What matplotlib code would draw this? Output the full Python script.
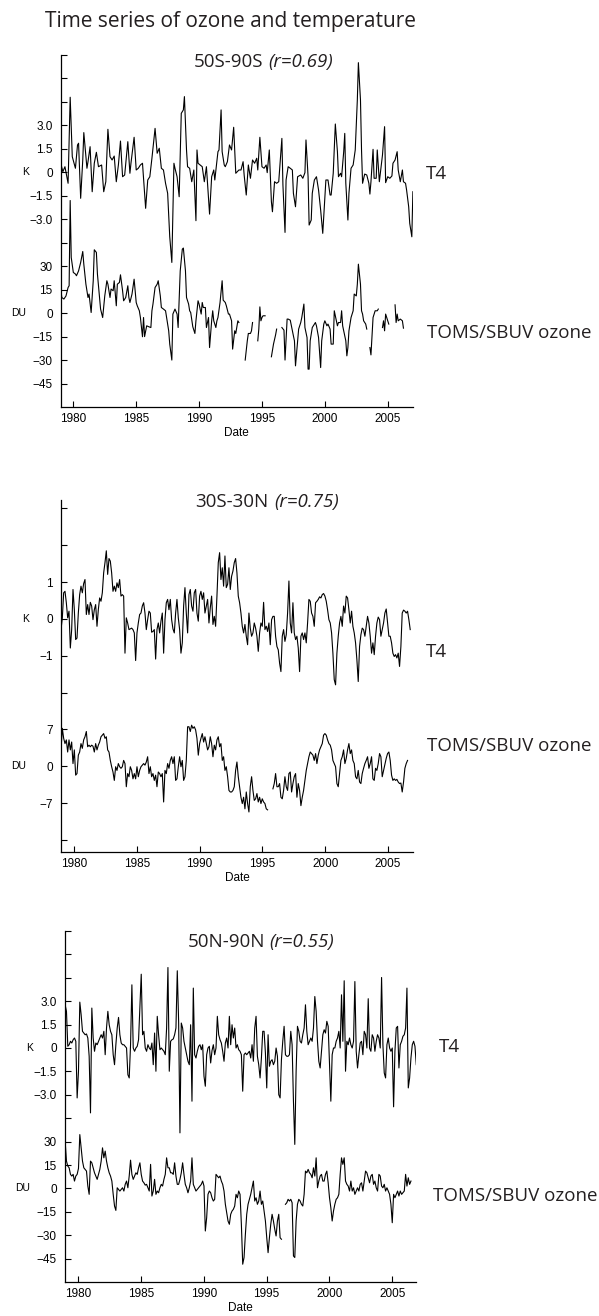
import numpy as np
import matplotlib
matplotlib.use("Agg")
import matplotlib.pyplot as plt

plt.rcParams['font.family'] = ['Liberation Sans', 'DejaVu Sans']
plt.rcParams['axes.unicode_minus'] = True
nan = np.nan

# ---------------- data ----------------
# Panel 1 (50S-90S): (month index since Jan 1979, value)
P1_T4 = [(0,0.58),(2,0.04),(4,0.36),(7,-0.70),(9,4.80),(11,1.00),(14,0.26),(16,1.75),(17,1.86),(19,-1.66),
 (21,0.79),(22,2.54),(25,0.26),(26,0.68),(28,1.64),(30,-1.24),(32,0.58),(34,1.28),(36,0.36),(39,0.47),
 (41,-1.24),(43,-0.60),(45,2.75),(47,1.00),(49,0.79),(51,1.04),(53,-0.60),(55,0.47),(57,2.00),(59,-0.28),
 (61,-0.17),(64,1.96),(66,-0.06),(67,0.58),(70,2.24),(72,0.15),(74,0.26),(76,0.47),(78,0.58),(81,-2.30),
 (83,-0.49),(85,-0.28),(87,0.90),(90,2.81),(92,1.22),(94,1.54),(96,0.26),(98,0.15),(100,-0.70),(102,-1.34),
 (104,-4.12),(106,-5.76),(108,0.58),(109,0.26),(111,-0.28),(113,-1.56),(115,3.77),(117,3.99),(118,4.84),(120,1.43),
 (121,0.36),(123,0.26),(125,-0.60),(127,0.15),(129,-3.09),(130,1.43),(131,0.58),(133,0.47),(135,0.36),(137,-0.60),
 (139,0.36),(142,-2.67),(144,-0.28),(146,0.15),(147,-0.49),(150,1.32),(151,1.43),(153,3.99),(154,1.32),(156,0.47),
 (157,0.36),(159,0.68),(161,1.75),(163,1.43),(165,2.88),(167,-0.06),(170,0.15),(172,0.15),(174,0.68),(175,-0.17),
 (177,-1.45),(179,0.47),(181,-0.38),(183,0.79),(185,0.58),(187,0.90),(188,0.15),(190,2.24),(192,0.36),(194,0.26),
 (196,0.47),(197,-0.02),(199,1.43),(201,-1.88),(202,-2.52),(204,-0.60),(206,-0.70),(208,-0.60),(211,2.17),(212,-0.81),
 (214,-3.84),(215,-0.49),(217,0.36),(219,0.26),(221,0.15),(222,-1.34),(224,-2.20),(226,-0.28),(229,-0.17),(231,-0.38),
 (233,-0.02),(234,2.07),(236,-0.28),(237,-3.37),(239,-3.05),(240,-1.34),(242,-0.49),(244,-0.28),(246,-1.13),(248,-2.41),
 (250,-3.90),(252,-1.56),(253,-0.49),(255,-0.49),(257,-1.45),(258,-1.45),(260,-0.06),(262,3.09),(264,1.32),(265,-0.28),
 (267,-0.06),(268,-0.28),(270,1.32),(271,2.49),(272,-0.70),(274,-3.05),(275,-1.34),(277,0.26),(279,0.47),(281,1.43),
 (283,4.63),(284,7.01),(286,4.63),(287,1.43),(288,-0.70),(290,-0.11),(292,-0.17),(294,-0.70),(295,-1.39),(296,-0.60),
 (298,1.47),(299,-0.38),(301,-0.38),(302,1.43),(304,-0.60),(306,0.58),(307,1.11),(309,2.92),(310,-0.66),(312,-0.28),
 (314,-0.38),(316,-0.23),(317,0.58),(319,0.79),(321,1.32),(322,0.15),(324,-0.60),(326,0.15),(327,-0.60),(329,-0.70),
 (330,-1.13),(332,-2.20),(333,-3.26),(335,-4.12),(336,-1.24)]

P1_OZ = [(0,15.6),(1,10),(3,9),(5,11),(7,16.4),(8,17.5),(9,72),(10,35.6),(12,26),(14,25),(15,23.9),(17,27),
 (19,32.4),(21,39.4),(22,31.3),(24,18.5),(26,10),(27,12.2),(29,0.4),(31,20.7),(32,40.5),(34,38.8),(35,25),(37,10),
 (38,2.6),(40,-2.8),(42,11),(44,20.7),(45,18.5),(47,10),(48,15.4),(50,14.3),(51,20.7),(53,4.7),(54,18.5),(56,19.6),
 (57,24.5),(59,14.3),(60,7.9),(62,10),(64,17.5),(65,10),(66,6.8),(68,12.2),(70,21.7),(72,6.8),(73,4.7),(75,1.5),
 (76,-2.8),(78,-15.1),(79,-2.8),(80,-15),(82,-8.1),(84,-8.7),(86,-9.2),(87,1.5),(88,5.8),(90,16.4),(92,18.5),(93,20.7),
 (95,11),(96,3.6),(98,2.6),(100,1.5),(101,-2.8),(103,-11.3),(104,-19.8),(106,-30),(107,-0.6),(109,2.6),(111,-0.6),
 (112,-9.2),(114,27),(116,40.9),(117,41.6),(119,27),(120,10),(122,5.8),(123,1.5),(124,0.4),(126,-8.7),(128,-13),
 (129,-4.9),(131,7.9),(132,5.8),(134,-0.6),(135,6.8),(136,3.6),(138,3.6),(139,-9.2),(141,-2.8),(142,-22),(144,-4.9),
 (145,1.5),(146,-4.9),(148,-9.2),(149,-4.9),(150,-2.8),(152,6.8),(154,20.7),(155,8.3),(157,6.8),(158,4.7),(160,-0.6),
 (161,-0.6),(163,-4.9),(164,-23),(166,-11.3),(167,-13),(169,-4.9),(170,-6),(172,nan),(176,-30),(178,-17.7),(179,-13),
 (181,-13),(182,-11.3),(183,-6),(185,nan),(188,-17.7),(189,-10.2),(190,4),(191,-4.9),(192,-2.8),(193,-1.7),(195,-1.7),
 (198,nan),(201,-27.9),(203,-19.8),(205,-13.9),(206,-10.2),(208,nan),(211,-9.2),(213,-10.9),(214,-30),(216,-3.8),
 (217,-3.8),(219,-4.5),(221,-11.3),(222,-14.5),(223,-17.7),(224,-33.7),(226,-17.7),(227,-10.2),(229,-6),(230,-2.8),
 (232,5.8),(233,-9.2),(235,-15.6),(236,-35.8),(237,-35.8),(238,-17.7),(240,-9.2),(241,-8.1),(243,-6),(244,-8.1),
 (246,-15.6),(248,-34.8),(249,-17.7),(251,-7),(252,-4.9),(254,-8.1),(255,-7),(257,-10.2),(258,-19.8),(260,-19.8),
 (261,1.5),(263,-4.9),(264,-8.1),(265,-6),(267,-6),(268,1.5),(269,-8.1),(270,-11.3),(272,-17.7),(273,-27.3),(274,-22),
 (275,-11.3),(277,-2.8),(278,-0.6),(279,1.5),(280,12.2),(282,11),(283,18.5),(284,31.3),(286,18.5),(287,1.5),(288,-0.6),
 (289,-4.9),(291,-7),(292,-10.2),(294,nan),(295,-22),(296,-26.7),(298,-2.8),(299,-0.6),(300,1.5),(302,1.5),(303,2.6),
 (305,nan),(307,-9.2),(308,-4.9),(309,-11.3),(310,-0.6),(312,-4.9),(313,-7),(315,nan),(319,5.3),(320,-6),(321,-0.6),
 (322,-4.9),(324,-3.8),(326,-4.9),(327,-9.6)]

# Panels 2 and 3: regular samples (start year, step in years)
P2_START, P2_STEP = 1978.97, 0.1061
P2_T4 = [-0.29,0.03,0.71,0.75,0.44,0.03,0.21,-0.79,-0.29,0.80,0.25,-0.56,-0.52,0.16,0.66,0.89,0.71,0.96,1.07,0.12,
 0.39,0.12,0.45,0.35,-0.02,0.25,0.39,-0.20,0.25,0.57,0.48,0.71,1.25,1.53,1.85,1.21,1.64,1.57,1.25,0.75,0.89,0.75,0.98,
 0.85,1.07,0.62,0.66,0.62,-0.93,0.03,-0.11,-0.29,-0.27,-0.25,-0.29,-0.38,-1.13,-0.38,-0.11,0.12,0.16,0.35,0.44,0.16,
 -0.29,-0.02,0.21,0.16,-0.36,-0.34,-0.29,-1.09,-0.29,-0.11,-0.38,-0.06,0.16,-0.93,-0.02,0.44,0.53,0.25,0.53,-0.02,
 -0.27,-0.38,0.16,0.53,0.03,-0.29,-0.93,-0.65,0.35,0.85,0.16,-0.38,0.66,0.80,0.35,0.21,0.71,0.80,0.16,-0.06,0.62,
 0.75,0.53,0.71,0.16,0.35,0.53,-0.11,0.30,0.62,-0.15,0.07,-0.20,0.62,1.53,1.80,1.07,1.39,0.89,1.71,0.85,0.94,1.39,
 0.80,1.16,1.30,1.53,1.64,1.25,0.62,0.44,0.16,-0.20,-0.38,-0.15,-0.47,-0.70,0.16,-0.25,-0.47,-0.38,-0.11,-0.25,-0.47,
 -0.88,-0.38,-0.11,-0.20,0.45,-0.29,-0.20,-0.34,-0.11,-0.70,-0.02,0.07,0.07,-0.47,-0.75,-0.84,-1.20,-1.43,-0.47,
 -0.29,-0.61,-0.43,0.16,1.03,-0.11,-0.38,0.44,-0.38,-0.56,-0.47,-0.79,-1.43,-0.47,-0.38,-0.56,-0.38,-0.65,-0.11,
 0.53,0.48,0.16,0.07,-0.20,0.44,0.48,0.53,0.60,0.57,0.66,0.69,0.62,0.48,0.25,-0.02,-0.11,-0.38,-0.93,-1.65,-1.79,
 -0.93,-0.47,-0.11,0.07,-0.20,0.35,0.16,0.62,0.57,0.25,-0.11,0.21,-0.20,-0.38,-0.65,-1.11,-1.70,-0.75,-0.43,-0.25,
 -0.29,-0.47,-0.20,0.07,-0.11,-0.47,-0.93,-0.65,-0.97,-0.47,-0.11,0.05,-0.02,-0.47,-0.29,-0.11,0.16,0.27,-0.11,
 -0.47,-0.47,-0.65,-0.93,-1.02,-0.97,-1.06,-0.93,-1.29,-0.75,0.16,0.24,0.21,0.16,0.21,-0.02,-0.29]
P2_OZ = [3.1,7.2,5.3,4.3,5.0,2.7,5.0,3.1,4.6,0.5,3.1,-1.7,-1.4,2.1,2.7,4.3,3.4,5.0,5.6,6.6,3.7,4.0,3.7,4.0,3.8,2.7,
 4.3,3.1,4.0,4.6,5.6,5.9,6.2,5.3,5.6,3.1,2.7,1.1,-0.1,-1.1,-2.7,-0.1,-0.8,0.5,-0.1,-0.4,-0.1,1.1,0.5,-3.9,-1.4,-2.0,
 -0.1,-0.8,-2.4,-1.4,-2.4,-0.1,-2.0,-0.8,-0.1,0.2,0.5,0.2,0.8,1.8,-1.4,-0.1,-2.0,-1.4,-2.7,-1.7,-3.9,-1.1,-1.4,-2.0,
 -1.4,-6.8,-0.8,-1.4,0.5,-0.4,1.1,1.8,0.5,1.8,-2.7,-2.4,-0.1,1.8,-0.1,1.1,-2.7,-2.0,1.1,7.5,7.5,6.6,7.8,7.2,7.5,6.9,
 5.3,2.1,4.3,5.3,6.2,4.6,5.6,4.3,3.1,3.7,5.6,4.3,1.8,4.0,3.1,5.0,5.6,3.7,4.3,1.1,1.8,-0.8,-0.1,-2.0,-4.6,-4.9,-4.9,
 -4.6,-3.9,-0.8,0.8,-2.0,-3.9,-5.9,-7.1,-5.9,-8.1,-4.9,-7.1,-8.7,-3.9,-2.0,-4.6,-6.5,-6.2,-5.2,-6.8,-5.9,-7.1,-6.2,
 -6.8,-7.1,-8.1,-8.3,nan,nan,nan,-4.3,-3.3,-1.4,-3.9,-3.9,-3.3,-5.9,-6.2,-4.6,-2.0,-3.9,-4.6,-1.4,-1.1,-4.9,-3.3,
 -2.0,-1.4,-5.9,-3.3,-4.6,-7.5,-5.9,-4.6,-2.7,-0.8,0.5,1.8,2.7,2.4,2.1,1.1,2.4,0.5,2.1,3.1,3.7,4.3,5.9,6.2,5.9,5.0,
 4.3,4.0,3.1,1.1,0.5,-0.1,-3.3,-3.9,-1.4,1.1,1.8,3.1,0.5,1.5,3.1,4.3,2.4,3.1,1.1,0.5,-2.0,-2.4,-0.8,-3.0,-3.3,-1.4,
 -0.4,0.5,1.1,1.8,-0.4,0.5,1.8,-2.4,-2.7,-0.4,-0.8,0.5,2.4,1.8,-2.0,-0.8,0.5,1.5,2.4,2.7,1.1,-1.7,-2.7,-2.4,-2.7,
 -2.5,-3.0,-3.3,-3.2,-4.9,-3.0,-0.4,0.5,1.1]

P3_START, P3_STEP = 1978.94, 0.1064
P3_T4 = [2.77,2.35,0.11,0.21,0.43,0.32,0.53,0.64,0.43,-3.20,-1.49,2.94,2.13,1.07,0.96,0.85,0.90,0.64,-0.53,-4.16,
 2.56,0.64,-0.21,0.32,0.21,0.43,0.64,0.85,0.64,1.07,-0.43,1.28,2.35,1.49,1.07,0.85,-0.43,-1.07,0.21,1.28,1.96,0.85,
 0.32,0.21,0.21,0.11,0.00,-1.71,-1.92,0.21,4.05,0.00,-0.21,0.00,0.11,0.53,2.56,4.73,0.85,1.07,0.00,-0.21,0.21,0.00,
 -0.11,0.32,-1.07,0.96,-1.49,2.03,0.85,-0.11,0.00,-0.11,-0.21,-0.43,1.28,5.16,-1.49,0.43,0.53,0.58,0.85,1.28,4.95,
 1.71,-5.44,1.60,1.28,0.43,0.00,-0.43,-0.85,-1.07,1.49,-3.41,3.84,-0.43,-0.64,-0.21,0.11,0.21,-0.11,0.21,-1.81,
 -2.45,-0.43,0.00,0.11,-0.96,-0.17,0.21,-0.43,0.00,2.03,0.85,0.53,0.32,-0.21,-0.85,0.32,0.64,0.00,2.03,0.21,1.49,
 0.64,1.28,0.00,0.21,-0.11,-0.21,-0.43,-2.77,-0.43,-0.32,-0.43,-0.32,-0.21,-0.64,0.21,-0.85,1.28,2.03,-0.53,-1.07,
 -1.92,-0.64,1.07,1.07,-0.32,-2.56,0.85,-1.17,-0.85,-0.75,-1.07,-0.85,0.00,-0.53,-2.99,-3.20,-0.75,0.43,1.39,-0.43,
 -0.53,-0.53,-0.43,1.07,0.21,-3.41,-6.18,-1.49,1.39,1.07,0.43,0.32,0.85,1.28,2.77,1.07,0.21,0.43,0.64,0.43,1.28,
 3.30,2.35,0.43,-0.85,-1.28,-0.21,0.85,1.17,0.96,1.71,1.39,-1.07,-3.41,-0.43,0.00,0.00,0.43,0.64,1.07,0.00,3.41,
 0.43,4.31,-1.49,0.43,0.21,0.64,0.21,0.00,0.43,4.26,-0.21,-1.28,-0.43,0.32,0.43,-0.43,1.07,0.85,0.00,3.16,0.00,
 -0.21,0.85,0.64,-0.21,0.43,0.85,0.64,0.00,4.52,0.21,-1.60,-1.92,0.21,0.64,0.00,-0.21,0.00,-3.77,-0.21,1.28,1.39,
 -1.28,0.21,0.43,0.75,0.85,1.28,3.84,-2.56,-1.92,-0.64,0.21,0.43,0.11,-1.07]
P3_OZ = [30.3,17.5,14.3,13.2,9.0,7.9,9.0,4.7,7.9,9.0,12.8,34.5,26.0,17.5,13.2,12.2,11.1,1.5,-3.8,17.5,16.4,13.2,10.0,
 7.9,5.8,9.0,12.2,17.5,26.0,19.6,23.9,17.5,13.2,10.0,7.9,4.7,-3.8,-11.3,-14.1,0.4,-0.6,-1.7,-0.6,0.4,-1.7,2.6,4.7,0.4,
 8.0,18.1,9.0,5.8,7.9,10.0,9.0,13.2,16.4,9.0,4.7,3.6,2.1,2.6,0.4,-1.7,15.4,-4.9,-1.7,5.8,-3.8,-1.7,-2.8,0.4,2.6,1.5,
 5.8,9.0,19.6,13.2,13.2,10.0,10.0,9.0,16.4,7.9,2.6,2.6,5.8,10.0,16.4,9.0,2.6,0.4,-2.8,0.4,4.7,19.6,2.6,0.4,-1.7,-0.6,
 0.4,1.5,2.6,4.7,1.5,-27.3,-18.8,-3.8,-1.7,-2.8,-6.0,-8.1,-7.0,9.0,7.9,6.8,7.9,4.7,2.6,-1.7,-10.2,-15.6,-20.9,-23.0,
 -16.6,-14.5,-13.4,-11.3,-3.8,-6.0,-1.7,-3.8,-23.0,-48.6,-44.3,-29.4,-16.6,-10.2,-7.0,-3.8,0.4,4.7,-8.1,-6.0,-10.2,
 -8.1,-1.7,-10.2,-8.1,-14.5,-20.9,-31.6,-41.2,-31.6,-23.0,-16.6,-20.9,-26.2,-30.5,-20.9,-16.6,-31.6,-32.6,nan,nan,
 -10.2,-9.2,-7.0,-8.1,-7.0,-9.2,-43.3,-44.3,-20.9,-10.2,-7.0,-8.1,-10.2,-11.3,-3.8,11.1,10.0,12.2,10.0,9.0,6.8,13.2,
 7.9,19.6,0.4,4.7,7.9,9.0,4.7,4.7,9.0,11.1,3.6,-6.0,-12.4,-20.9,-14.5,-10.2,-7.0,-6.0,-3.8,9.0,19.6,15.4,19.6,4.7,
 2.6,1.5,-1.7,4.7,-1.7,0.4,-3.8,-1.7,0.4,-1.7,2.6,3.6,-1.7,4.7,11.1,10.0,6.8,3.6,7.9,9.0,2.6,4.7,0.4,-1.7,9.0,7.9,
 1.5,0.4,2.6,-1.7,0.4,-1.7,-3.8,-10.2,-22.0,-3.8,-6.0,-3.8,-1.7,-4.9,-1.7,-3.8,-2.8,-1.7,9.0,1.5,6.8,2.6,4.7]

TITLE = "Time series of ozone and temperature"
REGIONS = ["50S-90S", "30S-30N", "50N-90N"]
CORRS = ["(r=0.69)", "(r=0.75)", "(r=0.55)"]
XTICKS = [1980, 1985, 1990, 1995, 2000, 2005]

# ---------------- layout helpers ----------------
W, H = 599, 1316
def fx(x): return x / W
def fy(y): return 1 - y / H
def rect(l, t, r, b): return [fx(l), fy(b), (r - l) / W, (b - t) / H]

TF = ['Open Sans', 'DejaVu Sans']
TXTC = '#231f20'
fig = plt.figure(figsize=(W / 100, H / 100), dpi=100)
fig.text(fx(45), fy(27), TITLE, fontsize=15, family=TF, color=TXTC, va='baseline', ha='left')

def months_to_years(pairs):
    m, v = zip(*pairs)
    return 1979 + np.array(m, float) / 12.0, np.array(v, float)

def regular(start, step, vals):
    return start + step * np.arange(len(vals)), np.array(vals, float)

panels = [
    dict(rect=rect(61, 55, 412.5, 407), xlim=(1979.02, 2006.97),
         t4=months_to_years(P1_T4), oz=months_to_years(P1_OZ),
         ylimK=(-15, 7.5), ylimDU=(-60, 165),
         kticks=[7.5, 6, 4.5, 3, 1.5, 0, -1.5, -3, -4.5],
         klabels=['', '', '', '3.0', '1.5', '0', '\u22121.5', '\u22123.0', ''],
         duticks=[30, 15, 0, -15, -30, -45],
         dulabels=['30', '15', '0', '\u221215', '\u221230', '\u221245'],
         title_r=263, title_l=268, title_y=67, t4lab=(426, 174), ozlab=(427, 333)),
    dict(rect=rect(61, 500, 413, 852), xlim=(1978.97, 2006.99),
         t4=regular(P2_START, P2_STEP, P2_T4), oz=regular(P2_START, P2_STEP, P2_OZ),
         ylimK=(-6.33, 3.23), ylimDU=(-16.31, 50.61),
         kticks=[3, 2, 1, 0, -1, -2],
         klabels=['', '', '1', '0', '\u22121', ''],
         duticks=[7, 0, -7, -14],
         dulabels=['7', '0', '\u22127', ''],
         title_r=268, title_l=274, title_y=507, t4lab=(426, 652), ozlab=(427, 746)),
    dict(rect=rect(65, 931, 416, 1282), xlim=(1978.93, 2006.9),
         t4=regular(P3_START, P3_STEP, P3_T4), oz=regular(P3_START, P3_STEP, P3_OZ),
         ylimK=(-15, 7.5), ylimDU=(-60, 165),
         kticks=[7.5, 6, 4.5, 3, 1.5, 0, -1.5, -3, -4.5],
         klabels=['', '', '', '3.0', '1.5', '0', '\u22121.5', '\u22123.0', ''],
         duticks=[30, 15, 0, -15, -30, -45],
         dulabels=['30', '15', '0', '\u221215', '\u221230', '\u221245'],
         title_r=265, title_l=269, title_y=947, t4lab=(439, 1047), ozlab=(433, 1196)),
]

TICKFS = 8.5
LABFS = 13.5
for i, p in enumerate(panels):
    ax = fig.add_axes(p['rect'])
    ax2 = fig.add_axes(p['rect'], sharex=ax)
    ax2.patch.set_visible(False)
    for a in (ax, ax2):
        for s in ['top', 'right']:
            a.spines[s].set_visible(False)
    for s in ax2.spines.values():
        s.set_visible(False)
    for s in ['left', 'bottom']:
        ax.spines[s].set_linewidth(0.9)
        ax.spines[s].set_color('black')

    ax.plot(p['t4'][0], p['t4'][1], color='black', lw=0.8)
    ax2.plot(p['oz'][0], p['oz'][1], color='black', lw=0.8)

    ax.set_xlim(*p['xlim'])
    ax.set_ylim(*p['ylimK'])
    ax2.set_ylim(*p['ylimDU'])

    ax.set_xticks(XTICKS)
    ax.set_xticklabels([str(x) for x in XTICKS])
    ax.tick_params(axis='x', direction='in', length=4, width=0.8, pad=4, labelsize=TICKFS)
    ax.set_yticks(p['kticks'])
    ax.set_yticklabels(p['klabels'])
    ax.tick_params(axis='y', direction='in', length=4, width=0.8, pad=6, labelsize=TICKFS)
    ax2.set_yticks(p['duticks'])
    ax2.set_yticklabels(p['dulabels'])
    ax2.tick_params(axis='y', direction='in', length=4, width=0.8, pad=6, labelsize=TICKFS,
                    left=True, right=False, labelleft=True, labelright=False)
    ax2.tick_params(axis='x', bottom=False, labelbottom=False)
    ax.set_xlabel('Date', fontsize=TICKFS, labelpad=2)

    # unit labels
    ax.text(-0.1, 0, 'K', transform=ax.get_yaxis_transform(), ha='center', va='center', fontsize=7.5)
    ax2.text(-0.12, 0, 'DU', transform=ax2.get_yaxis_transform(), ha='center', va='center', fontsize=7.5)

    # panel title
    fig.text(fx(p['title_r']), fy(p['title_y']), REGIONS[i], fontsize=LABFS, family=TF,
             color=TXTC, ha='right', va='baseline')
    fig.text(fx(p['title_l']), fy(p['title_y']), CORRS[i], fontsize=LABFS, family=TF,
             style='italic', color=TXTC, ha='left', va='baseline')

    # series labels
    fig.text(fx(p['t4lab'][0]), fy(p['t4lab'][1]), 'T4', fontsize=LABFS, family=TF,
             color=TXTC, ha='left', va='center')
    fig.text(fx(p['ozlab'][0]), fy(p['ozlab'][1]), 'TOMS/SBUV ozone', fontsize=LABFS, family=TF,
             color=TXTC, ha='left', va='center')

fig.savefig('out.png', dpi=100)
